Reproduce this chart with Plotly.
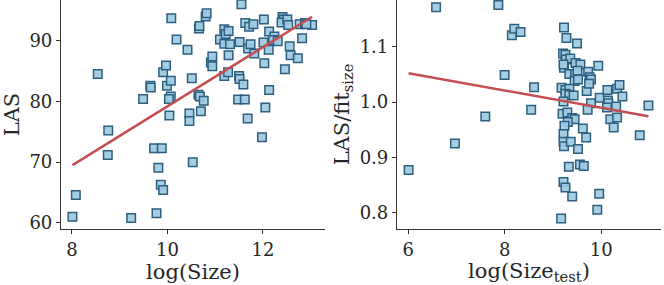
import numpy as np
import plotly.graph_objects as go

# Left panel: log(Size) vs LAS
left_x = [8.01, 8.08, 8.54, 8.76, 8.75, 9.24, 9.49, 9.64, 9.65, 9.72, 9.88, 9.81, 9.86, 9.91, 9.77,
          9.91, 9.97, 9.99, 10.07, 10.07, 10.03, 10.04, 10.08, 10.19, 10.42, 10.51, 10.46, 10.46, 10.53,
          10.66, 10.67, 10.65, 10.68, 10.76, 10.70, 10.80, 10.82, 10.91, 10.94, 10.94, 11.10, 11.19,
          11.22, 11.28, 11.19, 11.31, 11.28, 11.19, 11.27, 11.55, 11.63, 11.71, 11.80, 11.51, 11.69,
          11.74, 11.82, 11.50, 11.51, 11.59, 11.48, 11.62, 11.68, 11.98, 12.02, 12.01, 12.03, 12.05,
          12.13, 12.13, 12.12, 12.24, 12.21, 12.31, 12.41, 12.44, 12.39, 12.51, 12.53, 12.46, 12.56,
          12.58, 12.73, 12.77, 12.88, 12.82, 13.03, 12.91]
left_y = [61.0, 64.6, 84.5, 75.2, 71.2, 60.8, 80.4, 82.6, 82.3, 72.3, 72.3, 69.1, 66.3, 65.4, 61.6,
          84.8, 85.9, 82.6, 83.4, 80.8, 80.4, 77.7, 93.7, 90.2, 88.5, 83.8, 78.0, 76.8, 70.0,
          92.0, 92.4, 81.1, 80.8, 80.1, 78.4, 94.0, 94.5, 86.4, 87.4, 85.8, 90.2, 91.9,
          91.1, 91.6, 89.5, 89.4, 87.6, 84.2, 84.8, 96.0, 92.9, 92.3, 92.7, 89.8, 88.7,
          89.4, 87.9, 84.2, 83.7, 82.8, 80.3, 80.3, 77.2, 74.1, 93.5, 89.7, 86.3, 79.0,
          81.9, 91.5, 88.5, 90.7, 90.1, 89.9, 93.9, 93.5, 93.0, 93.5, 92.6, 85.3, 89.1,
          87.6, 87.1, 92.7, 92.9, 90.4, 92.6, 92.7]

# Right panel: log(Size_test) vs LAS/fit_size
right_x = [6.01, 6.58, 6.97, 7.60, 7.87, 8.00, 8.15, 8.20, 8.33, 8.61, 8.55,
           9.23, 9.28, 9.50, 9.21, 9.26, 9.27, 9.36, 9.23, 9.22, 9.47, 9.57, 9.34, 9.46, 9.51,
           9.94, 9.73, 9.76, 9.79, 9.45, 9.52, 9.18, 9.26, 9.34, 9.26, 9.34, 9.43, 9.70, 9.75,
           9.79, 9.72, 9.22, 9.20, 9.30, 9.40, 9.45, 9.31, 9.24, 9.62, 9.22, 9.22, 9.23, 9.37,
           9.69, 9.52, 9.33, 9.56, 9.64, 9.22, 9.26, 9.40, 9.17, 9.96, 9.92, 9.97, 10.13, 10.14,
           10.15, 10.12, 10.19, 10.26, 10.33, 10.38, 10.44, 10.31, 10.33, 10.80, 10.98]
right_y = [0.877, 1.172, 0.925, 0.974, 1.176, 1.049, 1.121, 1.133, 1.127, 1.027, 0.986,
           1.135, 1.116, 1.106, 1.088, 1.086, 1.077, 1.079, 1.062, 1.068, 1.071, 1.068, 1.051, 1.051, 1.057,
           1.066, 1.055, 1.045, 1.041, 1.038, 1.041, 1.026, 1.022, 1.024, 1.015, 1.013, 1.012, 1.020, 1.033,
           0.998, 0.986, 1.001, 0.979, 0.981, 0.971, 0.969, 0.964, 0.957, 0.952, 0.942, 0.928, 0.920, 0.928,
           0.936, 0.915, 0.883, 0.887, 0.884, 0.855, 0.845, 0.829, 0.789, 0.834, 0.805, 1.008, 1.022, 1.003,
           0.998, 0.990, 0.969, 0.954, 1.024, 1.031, 1.010, 0.992, 0.972, 0.940, 0.994]

FILL = "rgba(158,202,225,0.92)"
EDGE = "#2c5f80"
LINE = "#c44e52"
FONT = "DejaVu Serif"
TXT = "#262626"


def fit_line(x, y):
    x = np.asarray(x); y = np.asarray(y)
    b, a = np.polyfit(x, y, 1)
    xs = np.linspace(x.min(), x.max(), 50)
    return xs, a + b * xs


fig = go.Figure()
for xs, ys, xa, ya in [(left_x, left_y, "x", "y"), (right_x, right_y, "x2", "y2")]:
    fig.add_trace(go.Scatter(x=xs, y=ys, mode="markers", xaxis=xa, yaxis=ya,
                             marker=dict(symbol="square", size=8.5, color=FILL,
                                         line=dict(color=EDGE, width=1.5)),
                             showlegend=False, cliponaxis=False))
    fx, fy = fit_line(xs, ys)
    fig.add_trace(go.Scatter(x=fx, y=fy, mode="lines", xaxis=xa, yaxis=ya,
                             line=dict(color=LINE, width=2.5), showlegend=False))

axis_common = dict(showline=True, linecolor="#333333", linewidth=1.2, showgrid=False, zeroline=False,
                   ticks="outside", ticklen=4, tickwidth=1.2, tickcolor="#333333",
                   tickfont=dict(family=FONT, size=18, color=TXT), mirror=False)
tfont = dict(family=FONT, size=21, color=TXT)

fig.update_layout(
    width=664, height=285,
    margin=dict(l=0, r=0, t=0, b=56),
    plot_bgcolor="white", paper_bgcolor="white",
    xaxis=dict(domain=[61/664, 325/664], range=[7.77, 13.3], tickvals=[8, 10, 12],
               title=dict(text="log(Size)", font=tfont, standoff=2),
               anchor="y", **axis_common),
    yaxis=dict(domain=[0, 1], range=[59.0, 96.7], tickvals=[60, 70, 80, 90],
               title=dict(text="LAS", font=tfont, standoff=6),
               anchor="x", **axis_common),
    xaxis2=dict(domain=[397/664, 661/664], range=[5.77, 11.24], tickvals=[6, 8, 10],
                title=dict(text="log(Size<sub>test</sub>)", font=tfont, standoff=2),
                anchor="y2", **axis_common),
    yaxis2=dict(domain=[0, 1], range=[0.770, 1.185], tickvals=[0.8, 0.9, 1.0, 1.1], tickformat=".1f",
                title=dict(text="LAS/fit<sub>size</sub>", font=tfont, standoff=4),
                anchor="x2", **axis_common),
)

fig.write_html("out.html", config={"displayModeBar": False},
               post_script="document.body.style.margin='0';document.body.style.overflow='hidden';")
